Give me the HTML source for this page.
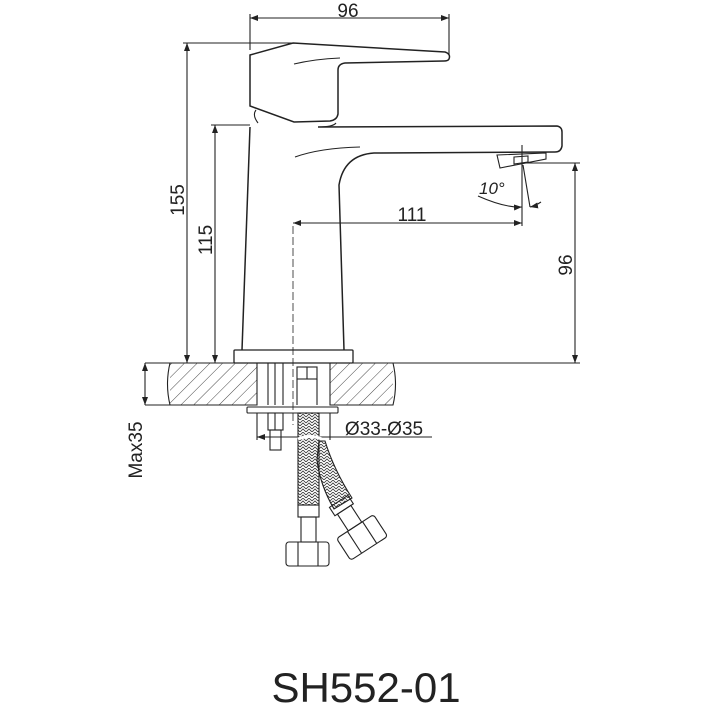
<!DOCTYPE html>
<html><head><meta charset="utf-8"><style>
html,body{margin:0;padding:0;background:#fff;}
svg{display:block;}
text{font-family:"Liberation Sans",sans-serif;fill:#222;}
</style></head><body>
<svg width="705" height="704" viewBox="0 0 705 704" xmlns="http://www.w3.org/2000/svg">
<defs>
<pattern id="h" width="9" height="9" patternUnits="userSpaceOnUse" patternTransform="rotate(45)">
<line x1="0" y1="0" x2="0" y2="9" stroke="#333" stroke-width="0.9"/>
</pattern>
<pattern id="braid" width="6" height="6" patternUnits="userSpaceOnUse">
<path d="M0 3 L3 0 L6 3 M0 6 L3 3 L6 6" fill="none" stroke="#333" stroke-width="0.8"/>
</pattern>
<marker id="a" markerWidth="8" markerHeight="6" refX="8" refY="3" orient="auto-start-reverse" markerUnits="userSpaceOnUse">
<path d="M0 0 L8 3 L0 6" fill="#222"/>
</marker>
</defs>
<g fill="none" stroke="#222" stroke-width="1.1">
<line x1="250" y1="14" x2="250" y2="50"/>
<line x1="449" y1="14" x2="449" y2="55"/>
<line x1="250" y1="18" x2="449" y2="18" marker-start="url(#a)" marker-end="url(#a)"/>
<line x1="183" y1="43" x2="293" y2="43"/>
<line x1="187" y1="43" x2="187" y2="363" marker-start="url(#a)" marker-end="url(#a)"/>
<line x1="211" y1="125" x2="250" y2="125"/>
<line x1="215" y1="125" x2="215" y2="363" marker-start="url(#a)" marker-end="url(#a)"/>
<line x1="145" y1="363" x2="580" y2="363"/>
<line x1="524" y1="163" x2="580" y2="163"/>
<line x1="575" y1="163" x2="575" y2="363" marker-start="url(#a)" marker-end="url(#a)"/>
<line x1="293" y1="223" x2="522" y2="223" marker-start="url(#a)" marker-end="url(#a)"/>
<line x1="522" y1="145" x2="522" y2="226"/>
<line x1="523" y1="165" x2="530" y2="207"/>
<path d="M478 196 Q505 208 522 207" marker-end="url(#a)"/>
<path d="M541 202 Q535 206 530 207" marker-end="url(#a)"/>
<line x1="293" y1="226" x2="293" y2="425" stroke-dasharray="8 3" stroke-width="0.8"/>
<path d="M250 55 L293 43 L445 52 Q451 54 449 59 Q448 61 444 61 L345 63 Q338 64 338 70 L338 114 Q337 120 330 121 L294 122 L250 106 Z" stroke-width="1.5"/>
<path d="M294 64 Q315 59 340 58"/>
<path d="M258 123 Q252 115 256 110" />
<path d="M250 127 L242 350" stroke-width="1.5"/>
<path d="M318 127 L557 126 Q562 127 562 132 L562 146 Q561 152 555 152 L374 153 Q344 155 339 185 L344 350" stroke-width="1.5"/>
<path d="M295 157 Q320 148 360 147"/>
<path d="M336 123 Q333 127 318 127"/>
<path d="M497 155 L546 153 L546 159 L500 168 Z"/>
<path d="M514 157 L528 156 L528 162 L514 164 Z"/>
<rect x="234" y="350" width="119" height="13" rx="1" stroke-width="1.3"/>
<rect x="170" y="363" width="87" height="42" fill="url(#h)" stroke="none"/>
<rect x="330" y="363" width="63" height="42" fill="url(#h)" stroke="none"/>
<path d="M170 363 Q165 384 170 405 L257 405 L257 363"/>
<path d="M330 363 L330 405 L393 405 Q398 384 393 363"/>
<line x1="145" y1="405" x2="170" y2="405"/>
<line x1="145" y1="363" x2="145" y2="405" marker-start="url(#a)" marker-end="url(#a)"/>
<line x1="268" y1="363" x2="268" y2="405"/><line x1="275" y1="363" x2="275" y2="405"/><line x1="283" y1="363" x2="283" y2="405"/>
<rect x="297" y="367" width="20" height="12"/><line x1="307" y1="367" x2="307" y2="379"/>
<line x1="297" y1="379" x2="297" y2="405"/><line x1="317" y1="379" x2="317" y2="405"/>
<rect x="247" y="407" width="91" height="6" rx="1"/>
<rect x="268" y="413" width="15" height="17"/><line x1="275" y1="413" x2="275" y2="430"/>
<rect x="270" y="430" width="11" height="20"/>
<line x1="257" y1="413" x2="257" y2="440"/>
<line x1="330" y1="413" x2="330" y2="440"/>
<line x1="257" y1="437" x2="432" y2="437"/>
<path d="M262 437 L257 437" marker-end="url(#a)"/>
<rect x="298" y="413" width="21" height="92" fill="url(#braid)"/>
<path d="M298 439 Q310 434 322 439" stroke="#fff" stroke-width="3"/>
<rect x="298" y="505" width="21" height="12"/>
<rect x="301" y="517" width="15" height="25"/>
<rect x="286" y="542" width="43" height="24" rx="3"/>
<line x1="298" y1="542" x2="298" y2="566"/><line x1="318" y1="542" x2="318" y2="566"/>
<path d="M319 441 L325 441 Q334 470 352 498 L334 509 Q320 485 317 460 Z" fill="url(#braid)"/>
<g transform="translate(367,545) rotate(-33)">
<rect x="-11" y="-52" width="22" height="10"/>
<rect x="-8" y="-42" width="16" height="20"/>
<rect x="-22" y="-22" width="44" height="26" rx="3"/>
<line x1="-9" y1="-22" x2="-9" y2="4"/><line x1="9" y1="-22" x2="9" y2="4"/>
</g>
</g>
<text x="348" y="17" font-size="19" text-anchor="middle">96</text>
<text transform="translate(184,200) rotate(-90)" font-size="19" text-anchor="middle">155</text>
<text transform="translate(212,240) rotate(-90)" font-size="19" text-anchor="middle">115</text>
<text transform="translate(572,265) rotate(-90)" font-size="19" text-anchor="middle">96</text>
<text x="412" y="221" font-size="19" text-anchor="middle">111</text>
<text x="479" y="194" font-size="17" font-style="italic">10°</text>
<text x="384" y="435" font-size="19" text-anchor="middle">Ø33-Ø35</text>
<text transform="translate(142,450) rotate(-90)" font-size="19" text-anchor="middle">Max35</text>
<text x="366" y="702" font-size="42" text-anchor="middle">SH552-01</text>
</svg>
</body></html>
